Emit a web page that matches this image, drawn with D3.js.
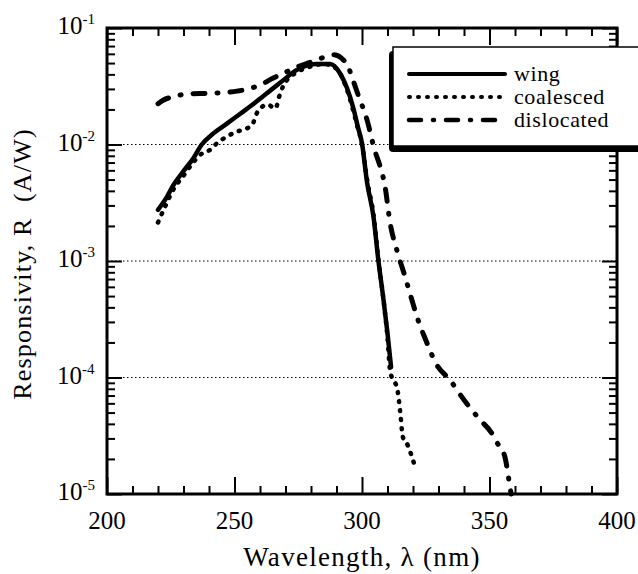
<!DOCTYPE html>
<html>
<head>
<meta charset="utf-8">
<script src="https://cdn.jsdelivr.net/npm/d3@7"></script>
<style>
  body { margin: 0; background: #fff; }
  svg { display: block; }
</style>
</head>
<body>
<svg width="638" height="574"></svg>
<script>
"use strict";

// wavelength (nm) and responsivity (A/W)
const wingX = [220, 223.5, 226, 230, 234, 237, 241.6, 247, 252, 257, 261, 264, 268, 274.5, 282, 287.5, 291.4, 294, 296.5, 298.4, 300, 302, 304.5, 306.4, 308.4, 310, 311.4];
const wingR = [2.75e-3, 3.55e-3, 4.47e-3, 5.9e-3, 7.7e-3, 9.9e-3, 1.24e-2, 1.51e-2, 1.82e-2, 2.19e-2, 2.57e-2, 2.9e-2, 3.4e-2, 4.37e-2, 4.9e-2, 4.9e-2, 4.07e-2, 3.1e-2, 2.09e-2, 1.41e-2, 1.02e-2, 4.7e-3, 2.4e-3, 1.02e-3, 4.7e-4, 2.4e-4, 1.23e-4];

const coalX = [220, 223, 226, 230, 234, 237, 240.4, 243, 247, 251, 255, 257, 259, 263, 266, 268, 270.5, 274.5, 280, 285, 290, 294, 298, 300, 302, 304.5, 306.5, 308.5, 310, 311, 314, 315, 316, 318, 320, 320.5];
const coalR = [2.14e-3, 3.0e-3, 4.1e-3, 5.4e-3, 7.1e-3, 8.3e-3, 9.0e-3, 1.02e-2, 1.17e-2, 1.29e-2, 1.38e-2, 1.48e-2, 1.9e-2, 2.2e-2, 2.04e-2, 2.8e-2, 3.55e-2, 4.17e-2, 4.68e-2, 4.9e-2, 4.47e-2, 3.0e-2, 1.48e-2, 1.0e-2, 5e-3, 2.5e-3, 1e-3, 4.5e-4, 2.2e-4, 1.15e-4, 7.6e-5, 5.0e-5, 3.1e-5, 2.6e-5, 1.95e-5, 1.8e-5];

const dislX = [220, 222, 226, 232, 240, 248, 254, 260, 265, 270, 275, 280, 285, 289, 292, 294.5, 296.5, 298.5, 302, 305, 307, 309, 311, 314, 317, 319, 322, 325, 329, 334.5, 341, 346, 351, 353, 356, 357, 358, 358.5];
const dislR = [2.24e-2, 2.4e-2, 2.57e-2, 2.72e-2, 2.75e-2, 2.82e-2, 2.95e-2, 3.24e-2, 3.7e-2, 4.17e-2, 4.68e-2, 5.1e-2, 5.6e-2, 5.9e-2, 5.5e-2, 4.7e-2, 3.55e-2, 2.66e-2, 1.62e-2, 8.9e-3, 6.6e-3, 4.4e-3, 2.14e-3, 1.17e-3, 7.2e-4, 5.1e-4, 3.1e-4, 2.1e-4, 1.32e-4, 9.5e-5, 6.0e-5, 4.4e-5, 3.3e-5, 2.75e-5, 2.1e-5, 1.62e-5, 1.15e-5, 1.0e-5];

const seriesNames = ["wing", "coalesced", "dislocated"];
const xTicks = [200, 250, 300, 350, 400];
const yExponents = [-1, -2, -3, -4, -5];
const gridValues = [1e-2, 1e-3, 1e-4];

// pick the first serif face that is really installed
function pickSerif() {
    let ctx = document.createElement("canvas").getContext("2d");
    let sample = "Responsivity wing 0123";
    ctx.font = "40px monospace";
    let base = ctx.measureText(sample).width;
    let names = ["Liberation Serif", "Times New Roman", "Tinos", "DejaVu Serif", "Noto Serif", "FreeSerif"];
    for (let n of names) {
        ctx.font = `40px '${n}', monospace`;
        if (Math.abs(ctx.measureText(sample).width - base) > 0.5) return `'${n}', serif`;
    }
    return "serif";
}

const svg = d3.select("svg");
svg.attr("font-family", pickSerif());
const plot = { left: 107, right: 617, top: 28, bottom: 494 };

let x = d3.scaleLinear().domain([200, 400]).range([plot.left, plot.right]);
let y = d3.scaleLog().domain([1e-5, 1e-1]).range([plot.bottom, plot.top]);

// minor and major tick values
let xMinor = d3.range(200, 401, 10).filter(d => d % 50 != 0);
let yMinor = [];
[-5, -4, -3, -2].forEach(e => {
    for (let k = 2; k <= 9; k++) yMinor.push(k * Math.pow(10, e));
});
let yMajor = yExponents.map(e => Math.pow(10, e));

// grid
svg.append("g")
.attr("class", "grid")
.selectAll("line")
.data(gridValues)
.enter()
.append("line")
.attr("x1", plot.left)
.attr("x2", plot.right)
.attr("y1", d => y(d))
.attr("y2", d => y(d))
.attr("stroke", "#000")
.attr("stroke-width", 1)
.attr("stroke-dasharray", "1.5, 2.5");

// tick sets, all pointing into the plot
function ticks(axis, pos, values, size) {
    let g = svg.append("g")
    .attr("transform", pos)
    .call(axis.tickValues(values).tickSize(size).tickFormat(""));
    g.select(".domain").remove();
    g.selectAll("line").attr("stroke", "#000").attr("stroke-width", 2);
}
ticks(d3.axisRight(y), `translate(${plot.left},0)`, yMinor, 8);
ticks(d3.axisRight(y), `translate(${plot.left},0)`, yMajor, 15);
ticks(d3.axisLeft(y), `translate(${plot.right},0)`, yMinor, 8);
ticks(d3.axisLeft(y), `translate(${plot.right},0)`, yMajor, 15);
ticks(d3.axisTop(x), `translate(0,${plot.bottom})`, xMinor, 8);
ticks(d3.axisTop(x), `translate(0,${plot.bottom})`, xTicks, 17);
ticks(d3.axisBottom(x), `translate(0,${plot.top})`, xMinor, 8);
ticks(d3.axisBottom(x), `translate(0,${plot.top})`, xTicks, 17);

// curves
let line = d3.line().x(d => x(d[0])).y(d => y(d[1])).curve(d3.curveMonotoneX);
let curves = [
    { name: "coalesced", xs: coalX, rs: coalR, dash: "1, 8", width: 4.5 },
    { name: "wing", xs: wingX, rs: wingR, dash: null, width: 4.5 },
    { name: "dislocated", xs: dislX, rs: dislR, dash: "12, 12, 1, 12", width: 5 }
];
curves.forEach(c => {
    svg.append("path")
    .datum(c.xs.map((v, i) => [v, c.rs[i]]))
    .attr("class", c.name)
    .attr("d", line)
    .attr("fill", "none")
    .attr("stroke", "#000")
    .attr("stroke-width", c.width)
    .attr("stroke-linecap", "round")
    .attr("stroke-dasharray", c.dash);
});

// frame
svg.append("rect")
.attr("x", plot.left)
.attr("y", plot.top)
.attr("width", plot.right - plot.left)
.attr("height", plot.bottom - plot.top)
.attr("fill", "none")
.attr("stroke", "#000")
.attr("stroke-width", 3);

// y tick labels 10^n
svg.append("g")
.attr("class", "y_labels")
.selectAll("text")
.data(yExponents)
.enter()
.append("text")
.attr("x", 0)
.attr("y", d => y(Math.pow(10, d)) + 6)
.attr("font-size", 25)
.each(function(d) {
    let t = d3.select(this);
    t.append("tspan").text("10");
    t.append("tspan").text(d).attr("font-size", 15).attr("dy", -10);
})
.each(function() {
    let w = this.getBBox().width;
    d3.select(this).attr("x", 95 - w);
});

// x tick labels
svg.append("g")
.attr("class", "x_labels")
.selectAll("text")
.data(xTicks)
.enter()
.append("text")
.text(d => d)
.attr("x", d => x(d))
.attr("y", 529)
.attr("text-anchor", "middle")
.attr("font-size", 25);

// axis titles
svg.append("text")
.text("Wavelength, λ (nm)")
.attr("x", 362)
.attr("y", 566)
.attr("text-anchor", "middle")
.attr("font-size", 27)
.attr("letter-spacing", 1.3);

svg.append("text")
.text("Responsivity, R  (A/W)")
.attr("transform", `translate(31, 264) rotate(-90)`)
.attr("text-anchor", "middle")
.attr("font-size", 26)
.attr("letter-spacing", 1.2)
.style("white-space", "pre");

// legend with shadow, runs off the right edge
let legend = svg.append("g").attr("class", "legend");
legend.append("rect")
.attr("x", 389)
.attr("y", 51)
.attr("width", 270)
.attr("height", 101)
.attr("rx", 4)
.attr("fill", "#000");
legend.append("rect")
.attr("x", 393)
.attr("y", 47)
.attr("width", 270)
.attr("height", 99)
.attr("fill", "#fff")
.attr("stroke", "#000")
.attr("stroke-width", 1.5);

let legendStyle = { wing: curves[1], coalesced: curves[0], dislocated: curves[2] };
legend.selectAll("g.legend_item")
.data(seriesNames)
.enter()
.append("g")
.attr("class", "legend_item")
.attr("transform", (d, i) => `translate(0, ${74 + i * 23})`)
.each(function(d) {
    let g = d3.select(this);
    g.append("line")
    .attr("x1", 409)
    .attr("x2", 505)
    .attr("stroke", "#000")
    .attr("stroke-width", legendStyle[d].width - 0.5)
    .attr("stroke-linecap", "round")
    .attr("stroke-dasharray", legendStyle[d].dash);
    g.append("text")
    .text(d)
    .attr("x", 514)
    .attr("y", 7)
    .attr("font-size", 22)
    .attr("letter-spacing", 0.6);
});
</script>
</body>
</html>
